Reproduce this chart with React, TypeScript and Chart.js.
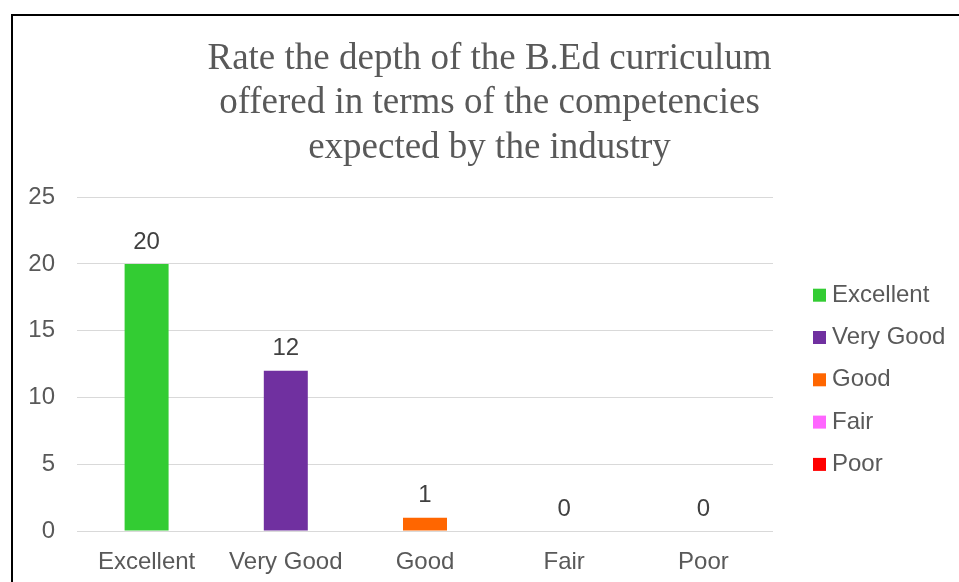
import React, { useEffect, useRef } from "react";
import { Chart, registerables } from "chart.js";

Chart.register(...registerables);

const titleLines = [
  "Rate the depth of the B.Ed curriculum",
  "offered in terms of the competencies",
  "expected by the industry",
];
const categories = ["Excellent", "Very Good", "Good", "Fair", "Poor"];
const counts = [20, 12, 1, 0, 0];
const barColors = ["#33CC33", "#7030A0", "#FF6600", "#FF66FF", "#FF0000"];
const yTicks = [0, 5, 10, 15, 20, 25];

const SANS = "'Liberation Sans', Arial, sans-serif";
const SERIF = "'Liberation Serif', 'Times New Roman', serif";

const valueLabels = {
  id: "valueLabels",
  afterDatasetsDraw(chart: any) {
    const ctx = chart.ctx;
    const meta = chart.getDatasetMeta(0);
    ctx.save();
    ctx.font = `24px ${SANS}`;
    ctx.fillStyle = "#404040";
    ctx.textAlign = "center";
    ctx.textBaseline = "middle";
    meta.data.forEach((bar: any, i: number) => {
      ctx.fillText(String(counts[i]), bar.x, bar.y - 22);
    });
    ctx.restore();
  },
};

const sideLegend = {
  id: "sideLegend",
  afterDraw(chart: any) {
    const ctx = chart.ctx;
    const area = chart.chartArea;
    const x0 = area.right + 40;
    const y0 = area.top + 98;
    const step = 42.3;
    ctx.save();
    ctx.font = `24px ${SANS}`;
    ctx.textAlign = "left";
    ctx.textBaseline = "middle";
    categories.forEach((c, i) => {
      const y = y0 + i * step;
      ctx.fillStyle = barColors[i];
      ctx.fillRect(x0, y - 6.5, 13, 13);
      ctx.fillStyle = "#595959";
      ctx.fillText(c, x0 + 19, y);
    });
    ctx.restore();
  },
};

export default function App() {
  const ref = useRef<HTMLCanvasElement>(null);
  useEffect(() => {
    if (!ref.current) return;
    const chart = new Chart(ref.current, {
      type: "bar",
      data: {
        labels: categories,
        datasets: [
          {
            data: counts,
            backgroundColor: barColors,
            categoryPercentage: 1,
            barPercentage: 0.316,
          },
        ],
      },
      options: {
        animation: false,
        responsive: false,
        maintainAspectRatio: false,
        layout: { padding: { left: 20, right: 0, top: 0, bottom: 0 } },
        plugins: {
          legend: { display: false },
          tooltip: { enabled: false },
          title: {
            display: true,
            text: titleLines,
            color: "#595959",
            font: { family: SERIF, size: 37, weight: "normal", lineHeight: 1.2 },
            padding: { top: 37, bottom: 27 },
          },
        },
        scales: {
          x: {
            grid: { display: false, drawTicks: false },
            border: { display: false },
            ticks: { color: "#595959", font: { family: SANS, size: 24 }, padding: 17 },
            afterFit: (s: any) => {
              s.height = 51;
            },
          },
          y: {
            min: 0,
            max: 25,
            grid: { color: "#D9D9D9", lineWidth: 1, drawTicks: false },
            border: { display: false },
            afterBuildTicks: (s: any) => {
              s.ticks = yTicks.map((v) => ({ value: v }));
            },
            ticks: { color: "#595959", font: { family: SANS, size: 24 }, padding: 22 },
            afterFit: (s: any) => {
              s.width = 57;
            },
          },
          legendSpace: {
            type: "linear",
            position: "right",
            display: true,
            grid: { display: false, drawTicks: false },
            border: { display: false },
            ticks: { display: false },
            afterFit: (s: any) => {
              s.width = 186;
            },
          },
        },
      },
      plugins: [valueLabels, sideLegend],
    });
    return () => chart.destroy();
  }, []);
  return (
    <div
      style={{
        position: "fixed",
        left: 0,
        top: 0,
        width: 959,
        height: 582,
        overflow: "hidden",
        background: "#fff",
      }}
    >
      <div
        style={{
          position: "absolute",
          left: 11,
          top: 14,
          width: 1000,
          height: 1000,
          borderLeft: "2px solid #000",
          borderTop: "2px solid #000",
        }}
      />
      <canvas
        ref={ref}
        width={959}
        height={582}
        style={{ position: "absolute", left: 0, top: 0, width: 959, height: 582 }}
      />
    </div>
  );
}
